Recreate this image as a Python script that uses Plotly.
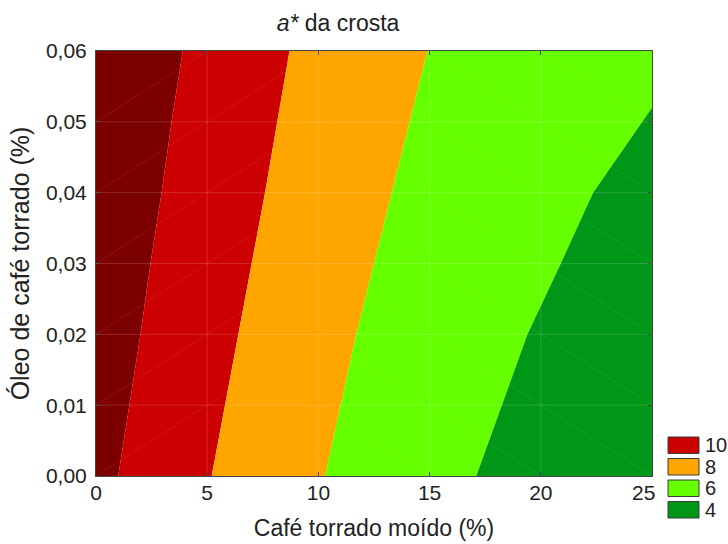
import plotly.graph_objects as go

# Axis ranges and ticks
x_ticks = [0, 5, 10, 15, 20, 25]
y_ticks = [0.00, 0.01, 0.02, 0.03, 0.04, 0.05, 0.06]
x_range = [0, 25]
y_range = [0, 0.06]

# Contour boundaries of a* (x = Café torrado moído, y = Óleo de café torrado)
# a* = 10 boundary
b10_x = [1.0, 1.5, 2.0, 2.45, 2.95, 3.4, 3.9]
b10_y = [0.00, 0.01, 0.02, 0.03, 0.04, 0.05, 0.06]
# a* = 8 boundary
b8_x = [5.2, 5.8, 6.4, 7.0, 7.6, 8.15, 8.7]
b8_y = [0.00, 0.01, 0.02, 0.03, 0.04, 0.05, 0.06]
# a* = 6 boundary
b6_x = [10.3, 11.0, 11.7, 12.5, 13.3, 14.1, 14.9]
b6_y = [0.00, 0.01, 0.02, 0.03, 0.04, 0.05, 0.06]
# a* = 4 boundary
b4_x = [17.1, 18.25, 19.4, 20.9, 22.35, 25.0]
b4_y = [0.000, 0.010, 0.020, 0.030, 0.040, 0.052]

# Legend levels and band colours
legend_levels = ["10", "8", "6", "4"]
band_colors = {
    ">10": "#7d0000",
    "10": "#cc0000",
    "8": "#ffa500",
    "6": "#66ff00",
    "4": "#009618",
}

W, H = 728, 544
M_L, M_R, M_T, M_B = 96, 76, 51, 68
PW, PH = W - M_L - M_R, H - M_T - M_B

fig = go.Figure()


def band(xs, ys, color):
    fig.add_trace(go.Scatter(
        x=xs, y=ys, mode="lines", fill="toself", fillcolor=color,
        line=dict(width=0, color=color), hoverinfo="skip", showlegend=False,
    ))


x0, x1 = x_range
y0, y1 = y_range

# > 10 : left of the 10 boundary
band([x0] + b10_x + [x0], [y0] + b10_y + [y1], band_colors[">10"])
# 8..10 : between 10 and 8 boundaries
band(b10_x + b8_x[::-1], b10_y + b8_y[::-1], band_colors["10"])
# 6..8
band(b8_x + b6_x[::-1], b8_y + b6_y[::-1], band_colors["8"])
# 4..6 : between 6 boundary and 4 boundary (closing along the top-right)
band(b6_x + [x1] + [x1] + b4_x[::-1],
     b6_y + [y1] + [b4_y[-1]] + b4_y[::-1], band_colors["6"])
# < 4 : below/right of the 4 boundary
band(b4_x + [x1], b4_y + [y0], band_colors["4"])

# faint mesh over the filled bands: grid lines and cell diagonals
mesh = dict(color="rgba(255,255,255,0.15)", width=1)
shapes = []
for xv in x_ticks[1:-1]:
    shapes.append(dict(type="line", xref="x", yref="y", x0=xv, x1=xv, y0=y0, y1=y1,
                       line=mesh, layer="above"))
for yv in y_ticks[1:-1]:
    shapes.append(dict(type="line", xref="x", yref="y", x0=x0, x1=x1, y0=yv, y1=yv,
                       line=mesh, layer="above"))
diag = dict(color="rgba(255,255,255,0.08)", width=1)
for i in range(len(x_ticks) - 1):
    for j in range(len(y_ticks) - 1):
        xa, xb = x_ticks[i], x_ticks[i + 1]
        ya, yb = y_ticks[j], y_ticks[j + 1]
        if xb <= 10:
            shapes.append(dict(type="line", xref="x", yref="y", x0=xa, x1=xb, y0=ya, y1=yb,
                               line=diag, layer="above"))
        else:
            shapes.append(dict(type="line", xref="x", yref="y", x0=xa, x1=xb, y0=yb, y1=ya,
                               line=diag, layer="above"))

# legend swatches (pixel layout converted to paper coordinates)
annotations = []
leg_x0, leg_x1 = 668, 699
leg_top = 437
leg_h, leg_gap = 16.5, 21.5


def px(xp):
    return (xp - M_L) / PW


def py(yp):
    return (H - M_B - yp) / PH


for i, lvl in enumerate(legend_levels):
    top = leg_top + i * leg_gap
    shapes.append(dict(type="rect", xref="paper", yref="paper",
                       x0=px(leg_x0), x1=px(leg_x1), y0=py(top + leg_h), y1=py(top),
                       fillcolor=band_colors[lvl], line=dict(color="#3a3a3a", width=1)))
    annotations.append(dict(xref="paper", yref="paper", x=px(leg_x1 + 4),
                            y=py(top + leg_h / 2), text=lvl, showarrow=False,
                            xanchor="left", yanchor="middle",
                            font=dict(size=20, color="#222")))

# last x tick label is nudged left so it clears the legend
annotations.append(dict(xref="x", yref="paper", x=25, y=0, xshift=5, yshift=-3,
                        text="25", showarrow=False, xanchor="right", yanchor="top",
                        font=dict(size=21, color="#222")))

fig.update_layout(
    width=W, height=H,
    margin=dict(l=M_L, r=M_R, t=M_T, b=M_B),
    paper_bgcolor="white", plot_bgcolor="white",
    separators=",.",
    font=dict(family="Liberation Sans, Arial, sans-serif", color="#222"),
    title=dict(text="<i>a*</i> da crosta", x=338 / W, xanchor="center",
               y=1 - 23 / H, yanchor="middle", font=dict(size=23, color="#222")),
    shapes=shapes, annotations=annotations,
)
fig.update_xaxes(range=x_range, tickvals=x_ticks,
                 ticktext=[str(v) for v in x_ticks[:-1]] + [""],
                 ticks="inside", ticklen=4, tickcolor="#333", mirror="ticks",
                 showline=True, linecolor="#444", linewidth=1, showgrid=False, zeroline=False,
                 tickfont=dict(size=21), ticklabelstandoff=-2, automargin=False,
                 title=dict(text="Café torrado moído (%)", font=dict(size=23), standoff=16),
                 layer="above traces")
fig.update_yaxes(range=y_range, tickvals=y_ticks, tickformat=".2f",
                 ticks="inside", ticklen=4, tickcolor="#333", mirror="ticks",
                 showline=True, linecolor="#444", linewidth=1, showgrid=False, zeroline=False,
                 tickfont=dict(size=21), ticklabelstandoff=4, automargin=False,
                 title=dict(text="Óleo de café torrado (%)", font=dict(size=25), standoff=9),
                 layer="above traces")

fig.write_html("out.html")
